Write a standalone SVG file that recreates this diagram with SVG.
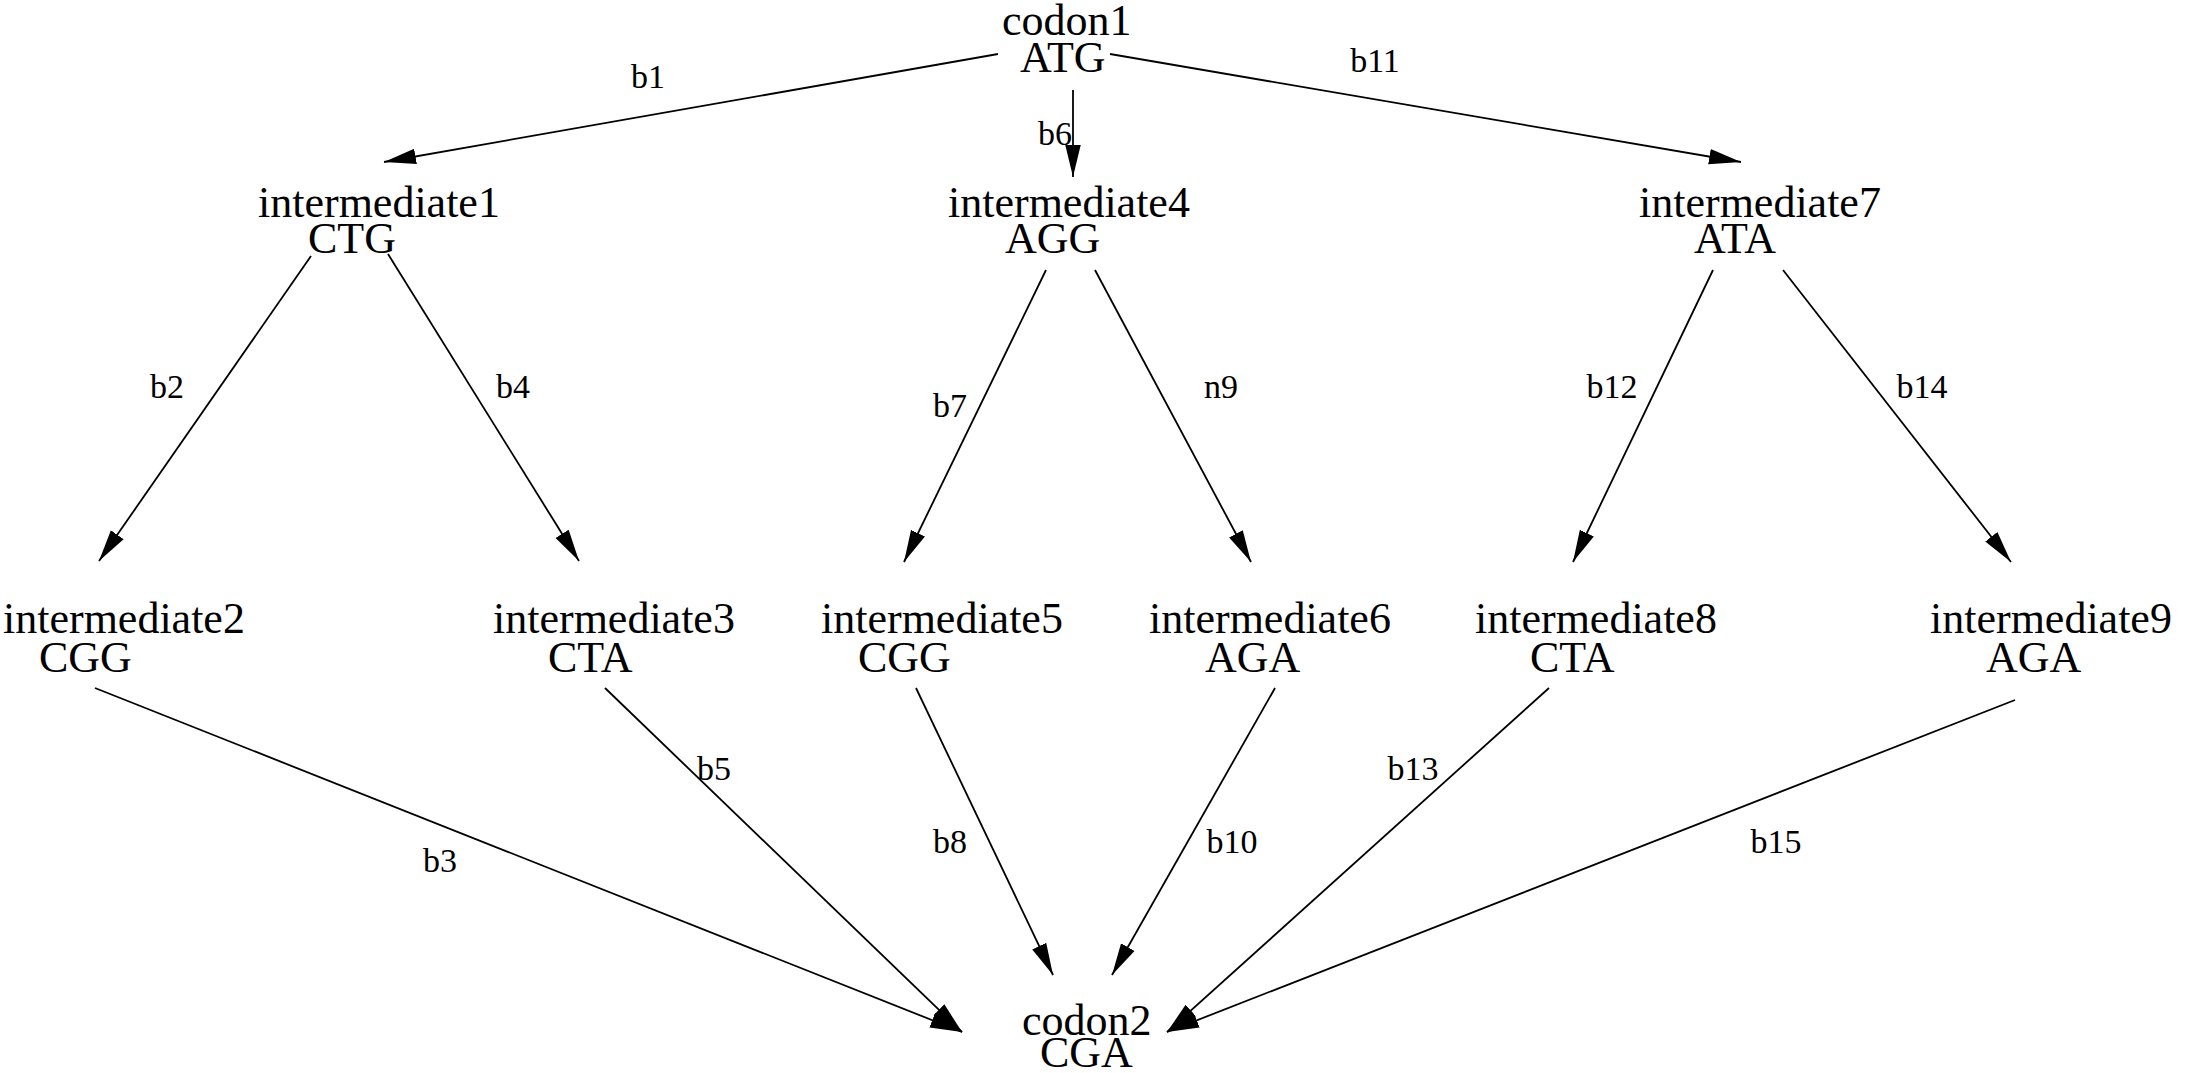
<svg xmlns="http://www.w3.org/2000/svg" width="2211" height="1073" viewBox="0 0 2211 1073">
<style>
.n{font-family:"Liberation Serif","Times New Roman",serif;font-size:44px;fill:#000}
.l{font-family:"Liberation Serif","Times New Roman",serif;font-size:34px;fill:#000;text-anchor:middle}
.e{stroke:#000;stroke-width:1.8;fill:none;marker-end:url(#ah)}
</style>
<defs>
<marker id="ah" markerUnits="userSpaceOnUse" markerWidth="32" markerHeight="18" viewBox="0 0 29 14" refX="29" refY="7" orient="auto">
<path d="M0,0 L29,7 L0,14 Z" fill="#000"/>
</marker>
</defs>
<rect width="2211" height="1073" fill="#fff"/>
<g id="connectors">
<line class="e" x1="998" y1="54" x2="384" y2="162"/>
<line class="e" x1="1073" y1="90" x2="1073" y2="177"/>
<line class="e" x1="1110" y1="54" x2="1741" y2="162"/>
<line class="e" x1="311" y1="256" x2="99" y2="561"/>
<line class="e" x1="388" y1="254" x2="579" y2="561"/>
<line class="e" x1="1046" y1="270" x2="904" y2="562"/>
<line class="e" x1="1095" y1="270" x2="1251" y2="562"/>
<line class="e" x1="1713" y1="270" x2="1573" y2="562"/>
<line class="e" x1="1783" y1="270" x2="2011" y2="562"/>
<line class="e" x1="95" y1="688" x2="962" y2="1032"/>
<line class="e" x1="605" y1="688" x2="962" y2="1032"/>
<line class="e" x1="916" y1="688" x2="1053" y2="975"/>
<line class="e" x1="1275" y1="688" x2="1112" y2="975"/>
<line class="e" x1="1549" y1="688" x2="1167" y2="1032"/>
<line class="e" x1="2015" y1="700" x2="1167" y2="1032"/>
<text class="l" x="648" y="88">b1</text>
<text class="l" x="1055" y="145">b6</text>
<text class="l" x="1375" y="72">b11</text>
<text class="l" x="167" y="398">b2</text>
<text class="l" x="513" y="398">b4</text>
<text class="l" x="950" y="417">b7</text>
<text class="l" x="1221" y="398">n9</text>
<text class="l" x="1612" y="398">b12</text>
<text class="l" x="1922" y="398">b14</text>
<text class="l" x="714" y="780">b5</text>
<text class="l" x="440" y="872">b3</text>
<text class="l" x="950" y="853">b8</text>
<text class="l" x="1232" y="853">b10</text>
<text class="l" x="1413" y="780">b13</text>
<text class="l" x="1776" y="853">b15</text>
</g>
<g id="codon1"><text class="n" x="1002" y="35">codon1</text><text class="n" x="1020" y="72">ATG</text></g>
<g id="intermediate1"><text class="n" x="258" y="217">intermediate1</text><text class="n" x="308" y="253">CTG</text></g>
<g id="intermediate4"><text class="n" x="948" y="217">intermediate4</text><text class="n" x="1005" y="253">AGG</text></g>
<g id="intermediate7"><text class="n" x="1639" y="217">intermediate7</text><text class="n" x="1694" y="253">ATA</text></g>
<g id="intermediate2"><text class="n" x="3" y="633">intermediate2</text><text class="n" x="39" y="672">CGG</text></g>
<g id="intermediate3"><text class="n" x="493" y="633">intermediate3</text><text class="n" x="548" y="672">CTA</text></g>
<g id="intermediate5"><text class="n" x="821" y="633">intermediate5</text><text class="n" x="858" y="672">CGG</text></g>
<g id="intermediate6"><text class="n" x="1149" y="633">intermediate6</text><text class="n" x="1205" y="672">AGA</text></g>
<g id="intermediate8"><text class="n" x="1475" y="633">intermediate8</text><text class="n" x="1530" y="672">CTA</text></g>
<g id="intermediate9"><text class="n" x="1930" y="633">intermediate9</text><text class="n" x="1986" y="672">AGA</text></g>
<g id="codon2"><text class="n" x="1022" y="1035">codon2</text><text class="n" x="1040" y="1067">CGA</text></g>
</svg>
